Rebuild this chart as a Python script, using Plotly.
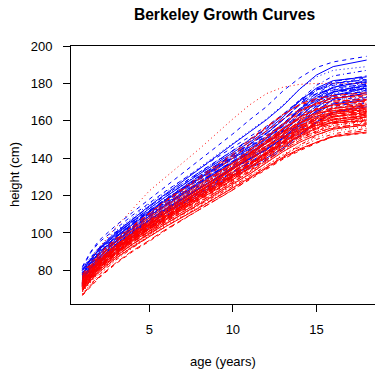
import plotly.graph_objects as go

# ages (years) at which heights were read
ages = [1, 1.5, 2, 3, 4, 5, 6, 8, 10, 11, 12, 13, 14, 15, 16, 18]

# ---- boys (blue) ----
b01 = [80, 86, 91.5, 100, 107.5, 114.5, 121, 134.5, 147.5, 154, 160.5, 168, 177, 184.5, 189, 192.5]
b02 = [82, 90, 96, 104, 111, 118, 125, 139.5, 153, 160.5, 167.5, 176, 183, 188.5, 191.5, 194.5]
b03 = [81, 87, 92.5, 101, 108.5, 115.5, 122, 135, 148, 154.5, 161, 168.5, 177, 183.5, 187, 189]
b04 = [79, 85, 90.5, 99, 106.5, 113, 119.5, 132, 144, 150, 156, 163, 171, 179, 184, 187]
b05 = [78, 84, 89.5, 98, 105, 111.5, 118, 130.5, 142, 147.5, 153.5, 160.5, 169, 176.5, 181, 184]
b06 = [80, 85.5, 91, 99.5, 106.5, 113, 119.5, 131.5, 143, 148.5, 154.5, 162, 170.5, 177.5, 181.5, 183.5]
b07 = [77, 83, 88.5, 97, 104, 110.5, 117, 129.5, 141, 146.5, 152, 158.5, 166.5, 174.5, 180, 183]
b08 = [76.5, 82.5, 88, 96.5, 103.5, 110, 116.5, 128.5, 140, 145.5, 151, 157, 165, 173, 179, 182.5]
b09 = [79, 85, 90, 98.5, 105.5, 112, 118.5, 130.5, 142, 147.5, 153, 160.5, 169, 176, 180, 182]
b10 = [75.5, 81.5, 87, 95.5, 102.5, 109, 115.5, 127.5, 138.5, 144, 149.5, 156, 164, 172, 178, 181.5]
b11 = [78, 84, 89, 97.5, 104.5, 111, 117.5, 129, 140, 145, 150.5, 157.5, 166, 173.5, 178, 181]
b12 = [80.5, 86.5, 92, 100.5, 107.5, 114, 120.5, 132.5, 144, 149.5, 155.5, 163, 171, 176.5, 179, 180.5]
b13 = [76, 82, 87.5, 96, 103, 109.5, 115.5, 127, 138, 143, 148, 154, 161.5, 170, 176.5, 180.5]
b14 = [74.5, 80.5, 86, 94, 101, 107.5, 113.5, 125, 136, 141, 146, 152, 159.5, 168, 175, 180]
b15 = [78.5, 84.5, 89.5, 98, 105, 111.5, 118, 130, 141.5, 147, 153, 160.5, 168.5, 174.5, 177.5, 179.5]
b16 = [76, 82, 87, 95.5, 102.5, 109, 115, 126.5, 137.5, 142.5, 148, 154, 162, 170, 175.5, 179]
b17 = [77.5, 83.5, 88.5, 97, 104, 110.5, 116.5, 128.5, 139.5, 144.5, 150, 157, 165.5, 172.5, 176.5, 178.5]
b18 = [74.5, 80.5, 86, 94.5, 101.5, 108, 114, 125.5, 136.5, 141.5, 146.5, 152.5, 160, 168.5, 174.5, 178.5]
b19 = [81, 87, 92, 100.5, 107.5, 114, 120.5, 132.5, 144, 150, 156, 163.5, 170.5, 174.5, 176.5, 178]
b20 = [76.5, 82.5, 87.5, 96, 103, 109.5, 115.5, 127, 138, 143, 148.5, 155, 163.5, 171, 175.5, 177.5]
b21 = [73.5, 79.5, 85, 93.5, 100.5, 107, 113, 124, 135, 140, 145, 151, 158.5, 167, 173.5, 177.5]
b22 = [78.5, 84.5, 89.5, 98, 105, 111.5, 117.5, 129.5, 140.5, 146, 151.5, 158.5, 166.5, 172, 175.5, 177]
b23 = [77, 83, 88, 96.5, 103.5, 110, 116, 127.5, 138.5, 143.5, 149, 155.5, 163.5, 170, 174, 176.5]
b24 = [75.5, 81.5, 86.5, 95, 102, 108.5, 114.5, 125.5, 136.5, 141.5, 146.5, 152.5, 160, 168, 173, 176]
b25 = [80, 86, 91, 99, 106, 112, 118, 129.5, 140.5, 146, 151.5, 158, 165.5, 171, 174, 175.5]
b26 = [73, 79, 84.5, 93, 100, 106.5, 112.5, 123.5, 134.5, 139.5, 144.5, 150.5, 157.5, 165.5, 171.5, 175]
b27 = [76, 82, 87, 95.5, 102.5, 109, 115, 126.5, 137.5, 142.5, 148, 155, 163, 169, 172.5, 174.5]
b28 = [74.5, 80.5, 85.5, 94, 101, 107, 113, 124, 134.5, 139.5, 144.5, 150.5, 158, 165.5, 171, 174]
b29 = [77.5, 83.5, 88.5, 96.5, 103.5, 110, 116, 127.5, 138, 143, 148, 154.5, 162, 167.5, 171, 173]
b30 = [73, 79, 84, 92.5, 99.5, 105.5, 111.5, 122.5, 133, 138, 143, 149, 156.5, 164, 169.5, 172.5]
b31 = [75, 81, 86, 94, 101, 107, 113, 124, 134.5, 139.5, 144.5, 151, 158.5, 165, 169, 171.5]
b32 = [72.5, 78.5, 83.5, 91.5, 98.5, 104.5, 110.5, 121.5, 132, 137, 142, 147.5, 154.5, 162, 167.5, 171]
b33 = [76, 82, 87, 95, 102, 108, 114, 125, 135.5, 140.5, 145.5, 152, 159.5, 165, 168, 170]
b34 = [74, 80, 85, 93, 100, 106, 111.5, 122.5, 132.5, 137.5, 142, 147.5, 154.5, 162, 166.5, 169.5]
b35 = [72, 77.5, 82.5, 90, 97, 103, 109, 120, 130, 134.5, 139, 144.5, 151.5, 159, 164.5, 168.5]
b36 = [73.5, 79, 84, 91.5, 98.5, 104.5, 110.5, 121, 131, 135.5, 140, 145.5, 152.5, 159.5, 164.5, 167.5]
b37 = [81.5, 89.5, 95, 102.5, 109.5, 116, 122.5, 134.5, 146, 151.5, 157, 163.5, 171, 177, 180, 182]
b38 = [75, 81, 86.5, 95, 102, 108.5, 115, 127, 138.5, 144, 150, 158, 166.5, 172.5, 175.5, 177]
b39 = [72, 77.5, 83, 91.5, 98.5, 105, 111, 122, 132.5, 137.5, 142.5, 148.5, 156, 164.5, 171.5, 176.5]

# ---- girls (red) ----
g01 = [77, 83, 88.5, 96.5, 103.5, 110, 117, 129, 141.5, 149, 156.5, 163, 169, 172, 173.5, 175]
g02 = [76, 81.5, 87, 95, 101.5, 108, 114.5, 126, 137.5, 144, 151, 158, 165, 169.5, 172, 174]
g03 = [78, 83.5, 89, 97, 104, 110.5, 117.5, 130, 142.5, 150, 157, 163.5, 168.5, 171, 172.5, 173]
g04 = [75, 80.5, 86, 93.5, 100, 106.5, 113, 125, 137, 144, 151.5, 158.5, 164.5, 168.5, 170.5, 172.5]
g05 = [73.5, 79, 84.5, 92, 98.5, 104.5, 111, 122.5, 134, 140.5, 147, 154, 161.5, 166.5, 169.5, 172]
g06 = [76.5, 82, 87.5, 95.5, 102.5, 109, 115.5, 127.5, 140, 147.5, 154.5, 161, 166, 169, 170.5, 171.5]
g07 = [73, 78.5, 84, 91.5, 98, 104, 110.5, 122, 134, 141, 148.5, 155.5, 162, 166, 168.5, 171]
g08 = [75, 80.5, 85.5, 93, 99.5, 105.5, 112, 123.5, 135, 142, 149, 156, 162, 166, 168.5, 170.5]
g09 = [71.5, 77, 82.5, 90, 96.5, 102.5, 108.5, 119.5, 130.5, 136.5, 143, 150, 157.5, 163, 167, 170]
g10 = [74.5, 80, 85.5, 93, 100, 106.5, 113, 125, 137.5, 145, 152, 158.5, 163.5, 166.5, 168, 169.5]
g11 = [74, 79.5, 85, 92, 98.5, 104.5, 111, 122, 133, 139.5, 146.5, 153.5, 160, 164.5, 167, 169]
g12 = [72.5, 78, 83.5, 91, 97.5, 103.5, 109.5, 121, 132, 138.5, 145.5, 152.5, 159, 163.5, 166.5, 168.5]
g13 = [70.5, 76, 81, 88.5, 95, 101, 107, 118, 128.5, 134.5, 141, 148, 155.5, 161, 165, 168.5]
g14 = [76, 81.5, 86.5, 94, 101, 107, 113.5, 125, 137, 144, 151, 157.5, 162.5, 165.5, 167, 168]
g15 = [73.5, 79, 84, 91.5, 98, 104, 110, 121.5, 132.5, 139, 146, 152.5, 158.5, 162.5, 165.5, 168]
g16 = [71.5, 77, 82.5, 89.5, 96, 102, 108, 119, 130, 136.5, 143.5, 150.5, 157, 161.5, 164.5, 167.5]
g17 = [75, 80.5, 85.5, 93, 99.5, 105.5, 112, 123.5, 135.5, 142.5, 149.5, 156, 161, 164, 165.5, 167]
g18 = [69.5, 75, 80, 87.5, 94, 100, 106, 116.5, 127, 133, 139.5, 146, 153.5, 159, 163.5, 167]
g19 = [73, 78.5, 83.5, 91, 97.5, 103, 109, 120, 131, 137.5, 144.5, 151, 157, 161, 164, 166.5]
g20 = [74.5, 80, 85, 92.5, 99, 104.5, 110.5, 121.5, 132.5, 138.5, 145, 151.5, 157.5, 161.5, 164.5, 166.5]
g21 = [72, 77.5, 82.5, 90, 96.5, 102, 108, 119, 130, 136.5, 143.5, 150, 156, 160.5, 163.5, 166]
g22 = [74, 79.5, 84.5, 92, 98.5, 104.5, 111, 122.5, 134.5, 141.5, 148, 154, 159, 162.5, 164.5, 166]
g23 = [73.5, 79, 84, 91, 97.5, 103, 109, 120, 131, 137.5, 144, 150.5, 156.5, 160.5, 163.5, 165.5]
g24 = [70, 75.5, 80.5, 87.5, 94, 99.5, 105.5, 116, 126.5, 132.5, 139, 145.5, 152.5, 158, 162, 165.5]
g25 = [72.5, 78, 83, 90, 96.5, 102, 108, 119, 129.5, 136, 142.5, 149, 155, 159, 162.5, 165]
g26 = [75.5, 81, 86, 93.5, 100, 106, 112, 123.5, 135.5, 142.5, 149, 154.5, 159, 161.5, 163.5, 165]
g27 = [71.5, 77, 82, 89, 95.5, 101, 107, 118, 128.5, 135, 142, 148.5, 154.5, 158.5, 162, 164.5]
g28 = [74, 79.5, 84.5, 91.5, 98, 103.5, 109.5, 120, 130.5, 136.5, 143, 149.5, 155.5, 159.5, 162.5, 164.5]
g29 = [69, 74.5, 79.5, 86.5, 93, 98.5, 104.5, 115, 125.5, 131.5, 138, 144.5, 151.5, 157, 161, 164]
g30 = [73, 78.5, 83.5, 90.5, 97, 102.5, 108.5, 119.5, 130, 136, 142.5, 149, 155, 159, 162, 164]
g31 = [74.5, 80, 85, 93.5, 100.5, 107, 113, 124.5, 136.5, 143, 149, 154, 157.5, 160.5, 162.5, 163.5]
g32 = [71, 76.5, 81.5, 89.5, 96.5, 102.5, 108.5, 120, 130.5, 136.5, 142.5, 148.5, 153.5, 157.5, 160.5, 163]
g33 = [72.5, 78, 83, 91, 98, 104, 109.5, 121, 131.5, 137, 143, 149, 154, 158, 161, 163]
g34 = [68.5, 74, 79, 87, 94, 100, 106, 117, 127.5, 133, 139, 145, 151, 156, 160, 163]
g35 = [72, 77.5, 82.5, 90.5, 97.5, 103.5, 109, 120.5, 131, 136.5, 142.5, 148.5, 153.5, 157.5, 160.5, 162.5]
g36 = [73.5, 79, 84, 92.5, 99.5, 106, 112, 123.5, 135.5, 142, 148, 153, 156.5, 159.5, 161, 162]
g37 = [70.5, 76, 81, 89, 96, 102, 107.5, 119, 129.5, 135, 141, 147, 152, 156, 159.5, 162]
g38 = [71.5, 77, 82, 90, 97, 103, 108.5, 120, 130.5, 136, 142, 148, 153, 156.5, 159.5, 161.5]
g39 = [67.5, 73, 78, 86, 93, 99, 105, 115.5, 126, 131.5, 137.5, 143.5, 149.5, 154.5, 158.5, 161]
g40 = [72.5, 78, 83, 91, 97.5, 103.5, 109, 120.5, 131, 136.5, 142, 147.5, 152.5, 156.5, 159, 161]
g41 = [71, 76.5, 81.5, 89.5, 96, 102, 107.5, 118.5, 129, 134.5, 140.5, 146.5, 151.5, 155.5, 158.5, 160.5]
g42 = [73, 78.5, 83.5, 92, 99, 105, 111, 122.5, 134, 140.5, 146.5, 151.5, 155, 157.5, 159, 160]
g43 = [70, 75.5, 80.5, 88.5, 95, 101, 106.5, 117.5, 128, 133.5, 139.5, 145.5, 150.5, 154.5, 157.5, 160]
g44 = [71.5, 77, 82, 89.5, 96, 101.5, 107, 118, 128.5, 134, 140, 145.5, 150.5, 154.5, 157.5, 159.5]
g45 = [67, 72.5, 77.5, 85.5, 92, 98, 103.5, 114, 124, 129.5, 135, 141, 147, 152, 156, 159]
g46 = [70.5, 76, 81, 88.5, 95, 100.5, 106, 116.5, 127, 132.5, 138.5, 144.5, 149.5, 153.5, 156.5, 158.5]
g47 = [69.5, 75, 80, 87.5, 94, 99.5, 105, 115.5, 126, 131.5, 137.5, 143.5, 148.5, 152.5, 155.5, 158]
g48 = [72, 77.5, 82.5, 90.5, 97, 103, 108.5, 120, 131, 137, 143, 148, 151.5, 154, 156, 157.5]
g49 = [68.5, 74, 79, 86.5, 93, 98.5, 104, 114, 124.5, 130, 136, 142, 147, 151, 154.5, 157]
g50 = [70, 75.5, 80.5, 88, 94, 99.5, 105, 115, 125, 130.5, 136, 141.5, 146, 150, 153, 156]
g51 = [67, 72, 76.5, 84, 90.5, 96, 102, 112.5, 123, 129, 134.5, 140, 144.5, 148.5, 152, 155]
g52 = [69, 74.5, 79, 86.5, 92.5, 98, 103.5, 113.5, 124, 129.5, 135, 140.5, 145, 148.5, 151.5, 154]
g53 = [66.5, 71.5, 76, 83.5, 90, 95.5, 101.5, 112.5, 123, 128.5, 134, 139.5, 144, 148, 151.5, 153.5]
g54 = [78, 85, 92, 103, 113, 122.5, 130, 145, 161, 168.5, 174.5, 178, 179.5, 180, 180, 180]

boys = [b01, b02, b03, b04, b05, b06, b07, b08, b09, b10, b11, b12, b13,
        b14, b15, b16, b17, b18, b19, b20, b21, b22, b23, b24, b25, b26,
        b27, b28, b29, b30, b31, b32, b33, b34, b35, b36, b37, b38, b39]
girls = [g01, g02, g03, g04, g05, g06, g07, g08, g09, g10, g11, g12, g13,
         g14, g15, g16, g17, g18, g19, g20, g21, g22, g23, g24, g25, g26,
         g27, g28, g29, g30, g31, g32, g33, g34, g35, g36, g37, g38, g39,
         g40, g41, g42, g43, g44, g45, g46, g47, g48, g49, g50, g51, g52,
         g53, g54]

x_ticks = [5, 10, 15]
y_ticks = [80, 100, 120, 140, 160, 180, 200]

# R lty 1..5 cycling: solid, dashed, dotted, dotdash, longdash
dashes = ["solid", "4px,4px", "1px,3px", "1px,3px,4px,3px", "7px,3px"]

fig = go.Figure()
series = [(h, "#0000FF") for h in boys] + [(h, "#FF0000") for h in girls]
for i, (h, col) in enumerate(series):
    fig.add_trace(go.Scatter(
        x=ages, y=h, mode="lines",
        line=dict(color=col, width=1, dash=dashes[i % 5]),
        showlegend=False, hoverinfo="skip"))

W, H = 375, 369
L, T, B = 71, 46, 65
PW, PH = W - L, H - T - B

font = "Liberation Sans, Arial, sans-serif"
fig.update_layout(
    width=W, height=H,
    margin=dict(l=L, r=0, t=T, b=B, pad=0),
    paper_bgcolor="white", plot_bgcolor="white",
    font=dict(family=font, size=13, color="black"),
    title=dict(text="<b>Berkeley Growth Curves</b>", x=224.5 / W, xref="container",
               y=1 - 14.5 / H, yref="container", xanchor="center", yanchor="middle",
               font=dict(size=15.6, family=font, color="black")),
    xaxis=dict(range=[0.32, 18.50], tickvals=x_ticks, ticks="outside", ticklen=7,
               tickcolor="black", showline=True, linecolor="black", linewidth=1,
               mirror=True, showgrid=False, zeroline=False,
               ticklabelstandoff=6,
               tickfont=dict(size=13, family=font, color="black")),
    yaxis=dict(range=[62.0, 200.02], tickvals=y_ticks, ticks="outside", ticklen=7,
               tickcolor="black", showline=True, linecolor="black", linewidth=1,
               mirror=False, showgrid=False, zeroline=False,
               ticklabelstandoff=8,
               tickfont=dict(size=13, family=font, color="black")),
    annotations=[
        dict(text="age (years)", xref="paper", yref="paper", x=(223 - L) / PW,
             y=-(361.5 - (T + PH)) / PH, xanchor="center", yanchor="middle",
             showarrow=False, font=dict(size=13, family=font, color="black")),
        dict(text="height (cm)", xref="paper", yref="paper", x=-(L - 14) / PW,
             y=0.5, xanchor="center", yanchor="middle", textangle=-90,
             showarrow=False, font=dict(size=13, family=font, color="black")),
    ],
)

# remove the default 8px page margin so the figure fills the window exactly
fig.write_html("out.html",
               config={"displayModeBar": False, "staticPlot": True},
               post_script="document.body.style.margin='0';document.body.style.overflow='hidden';")
